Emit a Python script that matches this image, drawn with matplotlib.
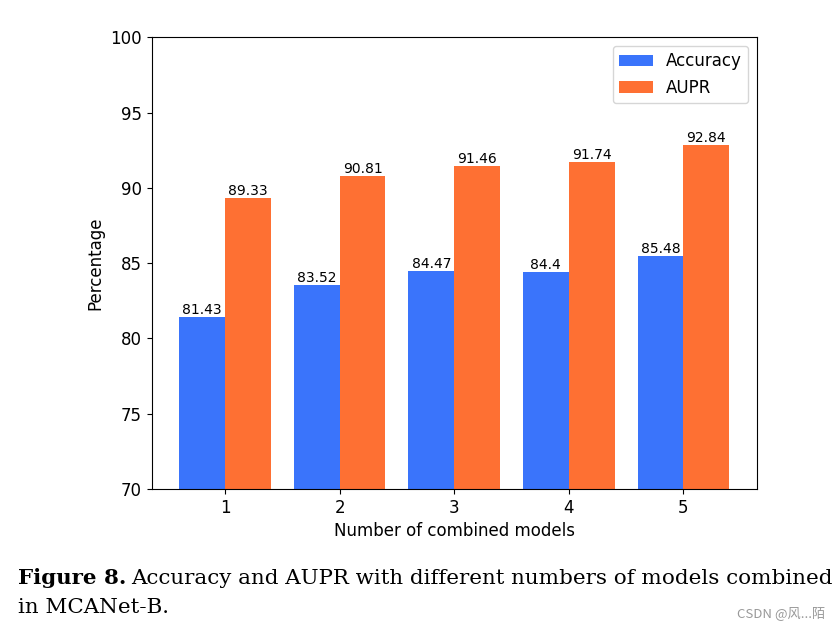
import numpy as np
import matplotlib.pyplot as plt

plt.rcParams['font.family'] = ['DejaVu Sans']

models = [1, 2, 3, 4, 5]
accuracy = [81.43, 83.52, 84.47, 84.4, 85.48]
aupr = [89.33, 90.81, 91.46, 91.74, 92.84]

fig = plt.figure(figsize=(8.38, 6.31), dpi=100)
ax = fig.add_axes([0.181, 0.225, 0.722, 0.716])

x = np.arange(len(models)) + 1
w = 0.4
b1 = ax.bar(x - w / 2, accuracy, w, color='#3a74fb', label='Accuracy')
b2 = ax.bar(x + w / 2, aupr, w, color='#fe7033', label='AUPR')
ax.bar_label(b1, labels=[str(v) for v in accuracy], fontsize=10)
ax.bar_label(b2, labels=[str(v) for v in aupr], fontsize=10)

ax.set_ylim(70, 100)
ax.set_xticks(x)
ax.set_xticklabels(models)
ax.tick_params(labelsize=12)
ax.set_xlabel('Number of combined models', fontsize=12)
ax.set_ylabel('Percentage', fontsize=12)
ax.legend(fontsize=12, loc='upper right')

# caption under the figure
serif = 'DejaVu Serif'
t1 = fig.text(0.021, 0.074, 'Figure 8.', fontsize=15.4, fontweight='bold', family=serif)
fig.canvas.draw()
bb = t1.get_window_extent()
x2 = (bb.x1 + 5) / fig.bbox.width
fig.text(x2, 0.074, 'Accuracy and AUPR with different numbers of models combined',
         fontsize=15.4, family=serif)
fig.text(0.021, 0.028, 'in MCANet-B.', fontsize=15.4, family=serif)
fig.text(0.985, 0.02, 'CSDN @风...陌', fontsize=9.5, color='#999999', ha='right',
         family=['Noto Sans CJK SC', 'DejaVu Sans'])

fig.savefig('out.png', dpi=100)
